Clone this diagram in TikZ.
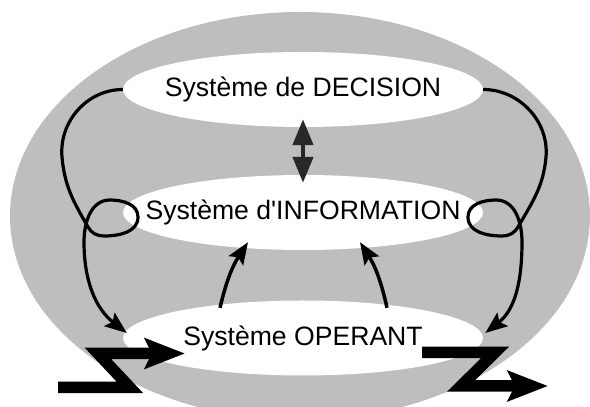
\documentclass[tikz,border=0pt]{standalone}
\usepackage{fontspec}
\newfontfamily\sysfont{Liberation Sans}[Ligatures=TeXOff]
\usetikzlibrary{shapes.geometric,arrows.meta}
\definecolor{shellgray}{RGB}{190,190,190}
\definecolor{arrowgray}{RGB}{40,40,40}

\begin{document}
\begin{tikzpicture}[x=1pt,y=1pt]

\tikzstyle{system} = [ellipse, fill=white, draw=none, inner sep=0,
    minimum width=360, minimum height=75]
\tikzstyle{systext} = [font=\sysfont\fontsize{26.6}{30}\selectfont, inner sep=0]
\tikzstyle{dbl} = [draw=arrowgray, line width=4.5,
    {Triangle[length=26pt,width=20pt]}-{Triangle[length=26pt,width=20pt]}]
\tikzstyle{feed} = [line width=3.5, -{Stealth[length=22pt,width=17pt,inset=4pt]}]
\tikzstyle{loopline} = [line width=3.2, -{Stealth[length=22pt,width=17pt,inset=4pt]}]
\tikzstyle{flow} = [line width=11.5, line join=miter, miter limit=10,
    -{Stealth[length=40pt,width=30pt,inset=7pt]}]

\useasboundingbox (0,0) rectangle (590,407);

% =========================
% outer shell
% =========================
\fill[shellgray] (300,191) ellipse [x radius=290, y radius=204];

% =========================
% three systems
% =========================
\node[system] (dec) at (303,317.5) {};
\node[systext] (dectext) at (dec) {Système de DECISION};

\node[system] (info) at (303,194.5) {};
\node[systext] (infotext) at (info) {Système d'INFORMATION};

\node[system] (op) at (303,69) {};
\node[systext] (optext) at (op) {Système OPERANT};

% =========================
% exchanges between systems
% =========================
\draw[dbl] ([yshift=8]dec.south) -- ([yshift=-8]info.north);

\draw[feed] ([xshift=-83,yshift=-7.5]op.north) to[bend left=10] ([xshift=-55,yshift=8]info.south);
\draw[feed] ([xshift=84,yshift=-7.5]op.north) to[bend right=10] ([xshift=57,yshift=8]info.south);

% loops decision -> operant
\draw[loopline] (dec.west) to[out=180,in=95] (62,250) to[out=-85,in=120] (88,180)
    to[out=-60,in=180] (104,171) to[out=0,in=-90] (138,190) to[out=90,in=0] (110,207)
    to[out=180,in=90] (84,165) to[out=-90,in=142] ([xshift=4,yshift=5]op.west);

\draw[loopline] (dec.east) to[out=0,in=85] (546,250) to[out=-95,in=60] (518,180)
    to[out=-120,in=0] (502,171) to[out=180,in=-90] (468,190) to[out=90,in=180] (496,207)
    to[out=0,in=90] (522,165) to[out=-90,in=38] ([xshift=2,yshift=5]op.east);

% =========================
% flows in and out
% =========================
\coordinate (inflow) at (58,19.5);
\coordinate (inhead) at (185,53.5);
\coordinate (outflow) at (422,54.5);
\coordinate (outhead) at (548,21);

\draw[flow] (inflow) -- (130,19.5) -- (98,53.5) -- (inhead);
\draw[flow] (outflow) -- (495,54.5) -- (461,21) -- (outhead);

\end{tikzpicture}
\end{document}
